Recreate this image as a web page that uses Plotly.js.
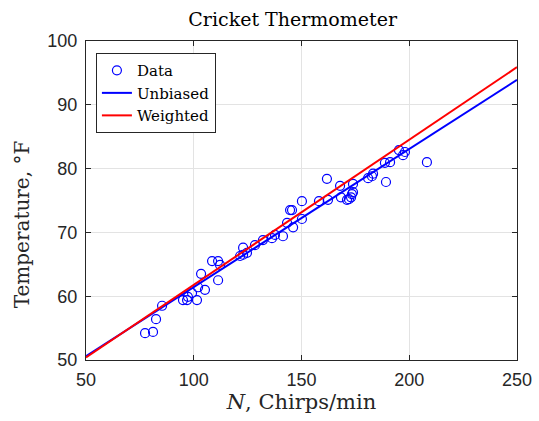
<!DOCTYPE html>
<html>
<head>
<meta charset="utf-8">
<script src="https://cdn.plot.ly/plotly-3.0.1.min.js"></script>
<style>html,body{margin:0;padding:0;background:#fff;}#plot{width:539px;height:421px;}</style>
</head>
<body>
<div id="plot"></div>
<script>
const chirps = [77.4,81.1,82.5,85.3,95.0,96.9,97.3,101.5,99.2,102.0,105.2,103.4,111.3,108.5,111.3,112.2,
  122.9,122.9,124.7,121.5,128.4,132.1,136.3,137.7,141.4,143.3,146.1,150.2,144.7,145.6,150.2,158.1,162.3,
  161.8,167.9,168.3,171.1,172.0,173.0,173.9,173.9,173.4,180.9,182.7,183.2,189.2,188.7,191.1,195.2,197.1,198.0,208.2];
const temps = [54.2,54.4,56.4,58.5,59.4,59.4,59.9,59.4,60.5,61.4,61.0,63.5,62.5,65.5,65.5,64.9,
  67.6,66.5,66.8,66.3,68.0,68.8,69.1,69.6,69.4,71.5,70.8,72.1,73.5,73.5,74.9,74.9,75.1,
  78.4,77.3,75.5,75.1,75.2,75.5,76.3,77.6,76.0,78.5,78.8,79.2,77.9,80.9,81.0,82.9,82.1,82.6,81.0];
const fitRange = [50, 250];
const unbiasedCoef = [0.2165, 39.78];   // slope, intercept
const weightedCoef = [0.2275, 39.03];
const xTicks = [50, 100, 150, 200, 250];
const yTicks = [50, 60, 70, 80, 90, 100];

const evalLine = (c) => fitRange.map(x => c[0]*x + c[1]);
const serif = "'DejaVu Serif', 'Liberation Serif', serif";
const sans = "'Liberation Sans', Arial, sans-serif";

const data = [
  {x: chirps, y: temps, mode: 'markers', type: 'scatter', name: 'Data',
   marker: {symbol: 'circle-open', size: 9, color: '#0000ff', line: {width: 1.2, color: '#0000ff'}}},
  {x: fitRange, y: evalLine(unbiasedCoef), mode: 'lines', type: 'scatter', name: 'Unbiased',
   line: {color: '#0000ff', width: 2}},
  {x: fitRange, y: evalLine(weightedCoef), mode: 'lines', type: 'scatter', name: 'Weighted',
   line: {color: '#ff0000', width: 2}}
];

const axisCommon = {
  showgrid: true, gridcolor: '#e3e3e3', gridwidth: 1,
  zeroline: false, showline: true, linecolor: '#262626', linewidth: 1, mirror: 'ticks',
  ticks: 'inside', ticklen: 5, tickcolor: '#262626',
  tickfont: {family: sans, size: 18, color: '#262626'}
};

const layout = {
  width: 539, height: 421,
  margin: {l: 86, r: 22, t: 41, b: 61},
  paper_bgcolor: '#ffffff', plot_bgcolor: '#ffffff',
  title: {text: 'Cricket Thermometer', font: {family: serif, size: 19, color: '#000'}, x: 0.543, xanchor: 'center', y: 0.953, yanchor: 'middle'},
  xaxis: Object.assign({}, axisCommon, {range: [50, 250], tickvals: xTicks, ticklabelstandoff: 3,
    title: {text: '<i>N</i>, Chirps/min', font: {family: serif, size: 21, color: '#262626'}, standoff: 2}}),
  yaxis: Object.assign({}, axisCommon, {range: [50, 100], tickvals: yTicks, ticklabelstandoff: 4}),
  annotations: [{text: 'Temperature, °F', textangle: -90, xref: 'paper', yref: 'paper',
    x: -0.148, y: 0.426, xanchor: 'center', yanchor: 'middle', showarrow: false,
    font: {family: serif, size: 20, color: '#262626'}}],
  showlegend: true,
  legend: {x: 0.023, y: 0.962, xanchor: 'left', yanchor: 'top', bgcolor: '#fff', bordercolor: '#262626', borderwidth: 1,
    font: {family: serif, size: 15, color: '#000'}, tracegroupgap: 0, itemwidth: 30}
};

Plotly.newPlot('plot', data, layout, {displayModeBar: false, staticPlot: true});
</script>
</body>
</html>
